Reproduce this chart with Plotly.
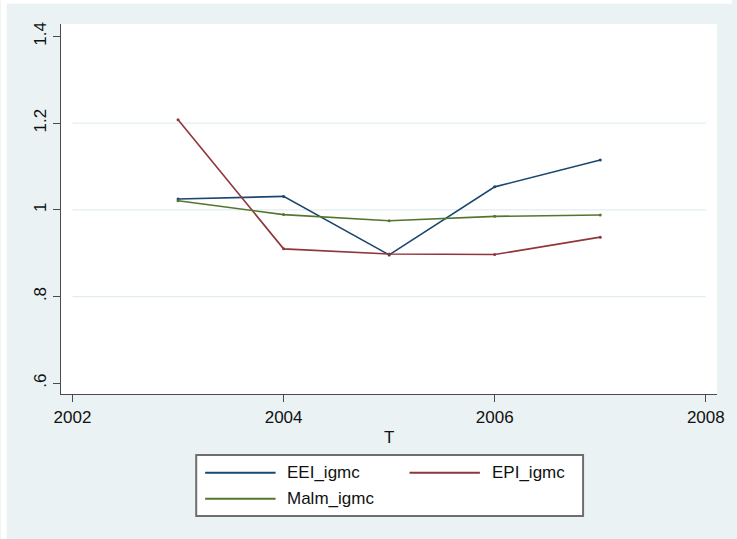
import plotly.graph_objects as go

# Series by year T
years = [2003, 2004, 2005, 2006, 2007]
eei_igmc = [1.025, 1.031, 0.896, 1.053, 1.115]
epi_igmc = [1.208, 0.910, 0.898, 0.897, 0.937]
malm_igmc = [1.021, 0.989, 0.975, 0.985, 0.988]

series_names = ["EEI_igmc", "EPI_igmc", "Malm_igmc"]
series_values = [eei_igmc, epi_igmc, malm_igmc]
series_colors = ["#1a476f", "#90353b", "#55752f"]

y_tickvals = [0.6, 0.8, 1.0, 1.2, 1.4]
y_ticktext = [".6", ".8", "1", "1.2", "1.4"]
x_tickvals = [2002, 2004, 2006, 2008]
grid_vals = [0.8, 1.0, 1.2]

W, H = 737, 539
L, R, T, B = 60.7, 722.0, 24.3, 394.0
BG = "#eaf2f3"
FONT = "Liberation Sans, Arial, Helvetica, sans-serif"


def px_x(p):
    return (p - L) / (R - L)


def px_y(p):
    return (B - p) / (B - T)


fig = go.Figure()
for name, vals, col in zip(series_names, series_values, series_colors):
    fig.add_trace(go.Scatter(
        x=years, y=vals, name=name, mode="lines+markers",
        line=dict(color=col, width=1.6),
        marker=dict(color=col, size=3),
        showlegend=False,
    ))

shapes = []
# thin white strip along the left and top edge of the graph region
shapes.append(dict(type="rect", xref="paper", yref="paper",
                   x0=px_x(0), x1=px_x(6), y0=px_y(W), y1=px_y(0),
                   fillcolor="white", line=dict(width=0), layer="below"))
shapes.append(dict(type="rect", xref="paper", yref="paper",
                   x0=px_x(0), x1=px_x(W), y0=px_y(4), y1=px_y(0),
                   fillcolor="white", line=dict(width=0), layer="below"))
# horizontal grid lines
for g in grid_vals:
    shapes.append(dict(type="line", xref="x", yref="y", x0=2002, x1=2008,
                       y0=g, y1=g, line=dict(color="#e3edf0", width=1.2),
                       layer="below"))

# legend box
lx0, lx1, ly0, ly1 = 197, 587, 455, 516
shapes.append(dict(type="rect", xref="paper", yref="paper",
                   x0=px_x(lx0), x1=px_x(lx1), y0=px_y(ly1), y1=px_y(ly0),
                   fillcolor="white", line=dict(color="#6e6e6e", width=2)))
legend_pos = [(206, 472.7), (412, 472.7), (206, 498.7)]
annotations = []
for (sx, sy), name, col in zip(legend_pos, series_names, series_colors):
    shapes.append(dict(type="line", xref="paper", yref="paper",
                       x0=px_x(sx), x1=px_x(sx + 71), y0=px_y(sy), y1=px_y(sy),
                       line=dict(color=col, width=2)))
    annotations.append(dict(xref="paper", yref="paper", x=px_x(sx + 81),
                            y=px_y(sy), text=name, showarrow=False,
                            xanchor="left", yanchor="middle",
                            font=dict(size=17, color="#111111", family=FONT)))

# x axis title
annotations.append(dict(xref="paper", yref="paper", x=px_x(391), y=px_y(437),
                        text="T", showarrow=False, xanchor="center",
                        yanchor="middle",
                        font=dict(size=17, color="#111111", family=FONT)))

fig.update_layout(
    width=W, height=H,
    margin=dict(l=L, r=W - R, t=T, b=H - B, pad=0),
    paper_bgcolor=BG, plot_bgcolor="white",
    font=dict(family=FONT, size=17, color="#111111"),
    shapes=shapes, annotations=annotations,
    xaxis=dict(
        range=[2001.891, 2008.106], tickvals=x_tickvals,
        ticks="outside", ticklen=7, tickwidth=1.2, tickcolor="#4a4a4a",
        showline=True, linecolor="#4a4a4a", linewidth=1.3,
        showgrid=False, zeroline=False,
        tickfont=dict(size=17, family=FONT, color="#111111"),
    ),
    yaxis=dict(
        range=[0.5753, 1.4286], tickvals=y_tickvals, ticktext=y_ticktext,
        tickangle=-90,
        ticks="outside", ticklen=7, tickwidth=1.2, tickcolor="#4a4a4a",
        showline=True, linecolor="#4a4a4a", linewidth=1.3,
        showgrid=False, zeroline=False,
        tickfont=dict(size=17, family=FONT, color="#111111"),
    ),
)

fig.write_html("out.html")
